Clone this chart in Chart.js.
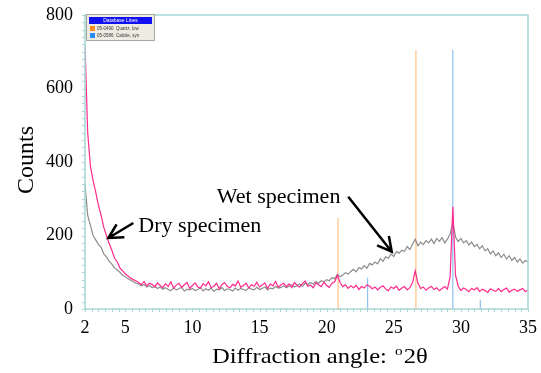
<!DOCTYPE html>
<html>
<head>
<meta charset="utf-8">
<script src="https://cdn.jsdelivr.net/npm/chart.js@4.4.0/dist/chart.umd.min.js"></script>
<style>
  html, body { margin: 0; padding: 0; background: #fff; }
  #wrap { width: 541px; height: 373px; }
</style>
</head>
<body>
<div id="wrap"><canvas id="xrd"></canvas></div>
<script>
// counts sampled every 0.2 deg 2theta, from 2.0 to 35.0
const dryCounts = [
  720, 480, 390, 350, 318, 282, 255, 222, 200, 178,
  160, 138, 128, 112, 104, 96, 90, 84, 80, 76,
  72, 66, 75, 63, 70, 67, 60, 71, 64, 58,
  69, 61, 74, 57, 65, 70, 59, 66, 72, 56,
  64, 71, 60, 57, 69, 63, 74, 58, 62, 70,
  55, 66, 72, 61, 58, 67, 63, 76, 59, 64,
  70, 57, 66, 62, 73, 60, 65, 71, 56, 68,
  63, 75, 59, 66, 70, 61, 68, 58, 72, 64,
  60, 69, 76, 62, 65, 58, 71, 66, 61, 73,
  64, 59, 70, 74, 92, 72, 61, 66, 56, 63,
  58, 64, 53, 61, 57, 66, 62, 55, 60, 52,
  59, 63, 54, 50, 60, 56, 62, 51, 57, 61,
  52, 58, 72, 104, 70, 56, 60, 51, 57, 62,
  53, 58, 50, 56, 61, 54, 88, 278, 92, 62,
  50, 57, 53, 47, 56, 52, 58, 48, 54, 50,
  45, 55, 51, 48, 56, 47, 53, 57, 46, 51,
  54, 48, 52, 56, 47, 52
];
const wetCounts = [
  340, 255, 228, 200, 188, 176, 168, 150, 142, 130,
  122, 112, 106, 100, 92, 88, 82, 78, 74, 70,
  68, 63, 67, 60, 64, 58, 62, 56, 60, 54,
  58, 53, 50, 57, 52, 55, 59, 49, 54, 52,
  56, 50, 53, 58, 49, 55, 51, 57, 48, 54,
  52, 58, 50, 55, 53, 49, 57, 51, 56, 53,
  50, 58, 54, 52, 59, 53, 56, 60, 52, 57,
  55, 61, 57, 59, 63, 58, 62, 66, 60, 64,
  68, 62, 70, 66, 72, 68, 75, 70, 77, 74,
  80, 77, 86, 82, 94, 88, 92, 99, 95, 102,
  108, 101, 113, 109, 118, 111, 124, 120, 128, 123,
  137, 130, 142, 138, 150, 143, 156, 152, 160, 157,
  170, 162, 176, 190, 172, 182, 175, 186, 180, 190,
  178, 192, 184, 194, 180, 190, 204, 238, 196, 184,
  192, 180, 186, 174, 182, 170, 176, 164, 172, 158,
  164, 150, 158, 145, 153, 140, 149, 136, 145, 132,
  140, 128, 136, 125, 132, 128
];
const angles = dryCounts.map((_, i) => +(2 + 0.2 * i).toFixed(1));

// reference stick patterns
const quartzAngles = [20.85, 26.65];
const quartzHeights = [248, 705];
const calciteAngles = [23.05, 29.4, 31.45];
const calciteHeights = [85, 705, 25];

const xTicks = [2, 5, 10, 15, 20, 25, 30, 35];
const yTicks = [0, 200, 400, 600, 800];

const SERIF = '"Liberation Serif", "Times New Roman", serif';

function sticks(a, h) {
  return a.flatMap((v, i) => [{x: v, y: 0}, {x: v, y: h[i]}, {x: v, y: null}]);
}

function stretchText(ctx, txt, x, y, sx) {
  ctx.save();
  ctx.translate(x, y);
  ctx.scale(sx, 1);
  ctx.fillText(txt, 0, 0);
  ctx.restore();
}

function arrow(ctx, x1, y1, x2, y2) {
  const ang = Math.atan2(y1 - y2, x1 - x2);
  const len = 16, spread = 28 * Math.PI / 180;
  ctx.beginPath();
  ctx.moveTo(x1, y1);
  ctx.lineTo(x2, y2);
  ctx.moveTo(x2 + len * Math.cos(ang + spread), y2 + len * Math.sin(ang + spread));
  ctx.lineTo(x2, y2);
  ctx.lineTo(x2 + len * Math.cos(ang - spread), y2 + len * Math.sin(ang - spread));
  ctx.stroke();
}

const decorations = {
  id: 'decorations',
  afterDatasetsDraw(chart) {
    const {ctx, chartArea: a, scales: {x, y}} = chart;
    ctx.save();

    // frame + minor ticks
    ctx.strokeStyle = '#a6d6d6';
    ctx.lineWidth = 1.5;
    ctx.strokeRect(a.left, a.top, a.right - a.left, a.bottom - a.top);
    ctx.lineWidth = 1;
    ctx.beginPath();
    for (let v = 0; v <= 800; v += 20) {
      const py = Math.round(y.getPixelForValue(v)) + 0.5;
      ctx.moveTo(a.left - 3, py);
      ctx.lineTo(a.left, py);
    }
    for (let v = 2; v <= 35; v += 0.5) {
      const px = Math.round(x.getPixelForValue(v)) + 0.5;
      ctx.moveTo(px, a.bottom);
      ctx.lineTo(px, a.bottom + 3);
    }
    ctx.stroke();

    // database lines box
    ctx.fillStyle = '#eeece2';
    ctx.fillRect(86, 14, 68, 26);
    ctx.strokeStyle = '#a8a8a0';
    ctx.strokeRect(86.5, 14.5, 68, 26);
    ctx.fillStyle = '#1010f0';
    ctx.fillRect(89, 17, 63, 7);
    ctx.fillStyle = '#fff';
    ctx.font = '5px "Liberation Sans", sans-serif';
    ctx.textAlign = 'center';
    ctx.textBaseline = 'middle';
    ctx.fillText('Database Lines', 120.5, 20.6);
    ctx.fillStyle = '#ff8a1e';
    ctx.fillRect(90, 26, 5, 5);
    ctx.fillStyle = '#2a8cf0';
    ctx.fillRect(90, 33, 5, 5);
    ctx.fillStyle = '#333';
    ctx.textAlign = 'left';
    ctx.font = '4.5px "Liberation Sans", sans-serif';
    ctx.fillText('05-0490  Quartz, low', 97, 28.6);
    ctx.fillText('05-0586  Calcite, syn', 97, 35.6);

    // annotations
    ctx.fillStyle = '#000';
    ctx.textBaseline = 'alphabetic';
    ctx.font = '21px ' + SERIF;
    stretchText(ctx, 'Wet specimen', x.getPixelForValue(11.81), y.getPixelForValue(287.6), 1.05);
    stretchText(ctx, 'Dry specimen', x.getPixelForValue(5.97), y.getPixelForValue(210.3), 1.05);
    ctx.strokeStyle = '#000';
    ctx.lineWidth = 2.5;
    arrow(ctx, x.getPixelForValue(21.61), y.getPixelForValue(305.6), x.getPixelForValue(24.85), y.getPixelForValue(155.9));
    arrow(ctx, x.getPixelForValue(5.60), y.getPixelForValue(234), x.getPixelForValue(3.74), y.getPixelForValue(193.2));

    // axis titles
    ctx.font = '24px ' + SERIF;
    ctx.save();
    ctx.translate(33, 160);
    ctx.rotate(-Math.PI / 2);
    ctx.textAlign = 'center';
    ctx.fillText('Counts', 0, 0);
    ctx.restore();

    const sx = 1.17;
    let tx = 212;
    const base = 363;
    ctx.font = '21px ' + SERIF;
    const t1 = 'Diffraction angle: ';
    stretchText(ctx, t1, tx, base, sx);
    tx += ctx.measureText(t1).width * sx + 2;
    ctx.font = '13px ' + SERIF;
    stretchText(ctx, 'o', tx, base - 8, sx);
    tx += ctx.measureText('o').width * sx + 1;
    ctx.font = '21px ' + SERIF;
    stretchText(ctx, '2\u03b8', tx, base, sx);

    ctx.restore();
  }
};

new Chart(document.getElementById('xrd'), {
  type: 'line',
  data: {
    datasets: [
      {
        label: 'Dry specimen',
        data: angles.map((a, i) => ({x: a, y: dryCounts[i]})),
        borderColor: '#ff2a8c',
        borderWidth: 1.2,
        order: 1
      },
      {
        label: 'Wet specimen',
        data: angles.map((a, i) => ({x: a, y: wetCounts[i]})),
        borderColor: '#8c8c8c',
        borderWidth: 1.2,
        order: 2
      },
      {
        label: 'Quartz, low',
        data: sticks(quartzAngles, quartzHeights),
        borderColor: '#ffcf9e',
        borderWidth: 1.5,
        spanGaps: false,
        order: 3
      },
      {
        label: 'Calcite, syn',
        data: sticks(calciteAngles, calciteHeights),
        borderColor: '#8fc2f0',
        borderWidth: 1.2,
        spanGaps: false,
        order: 3
      }
    ]
  },
  options: {
    responsive: true,
    maintainAspectRatio: false,
    animation: false,
    devicePixelRatio: 1,
    layout: { padding: { top: 15, right: 13, left: 0, bottom: 0 } },
    elements: { point: { radius: 0 }, line: { tension: 0, fill: false } },
    plugins: { legend: { display: false }, tooltip: { enabled: false } },
    scales: {
      x: {
        type: 'linear',
        min: 2,
        max: 35,
        grid: { display: false, drawTicks: false },
        border: { display: false },
        ticks: {
          font: { family: SERIF, size: 18 },
          color: '#000',
          padding: 8,
          maxRotation: 0,
          autoSkip: false
        },
        afterBuildTicks: s => { s.ticks = xTicks.map(v => ({value: v})); },
        afterFit: s => {
          s.height = 64;
          s.paddingLeft = 0;
          s.paddingRight = 0;
          s.paddingTop = 0;
          s.paddingBottom = 0;
        }
      },
      y: {
        min: 0,
        max: 800,
        grid: { display: false, drawTicks: false },
        border: { display: false },
        ticks: {
          font: { family: SERIF, size: 18 },
          color: '#000',
          padding: 12
        },
        afterBuildTicks: s => { s.ticks = yTicks.map(v => ({value: v})); },
        afterFit: s => {
          s.width = 85;
          s.paddingLeft = 0;
          s.paddingRight = 0;
          s.paddingTop = 0;
          s.paddingBottom = 0;
        }
      }
    }
  },
  plugins: [decorations]
});
</script>
</body>
</html>
